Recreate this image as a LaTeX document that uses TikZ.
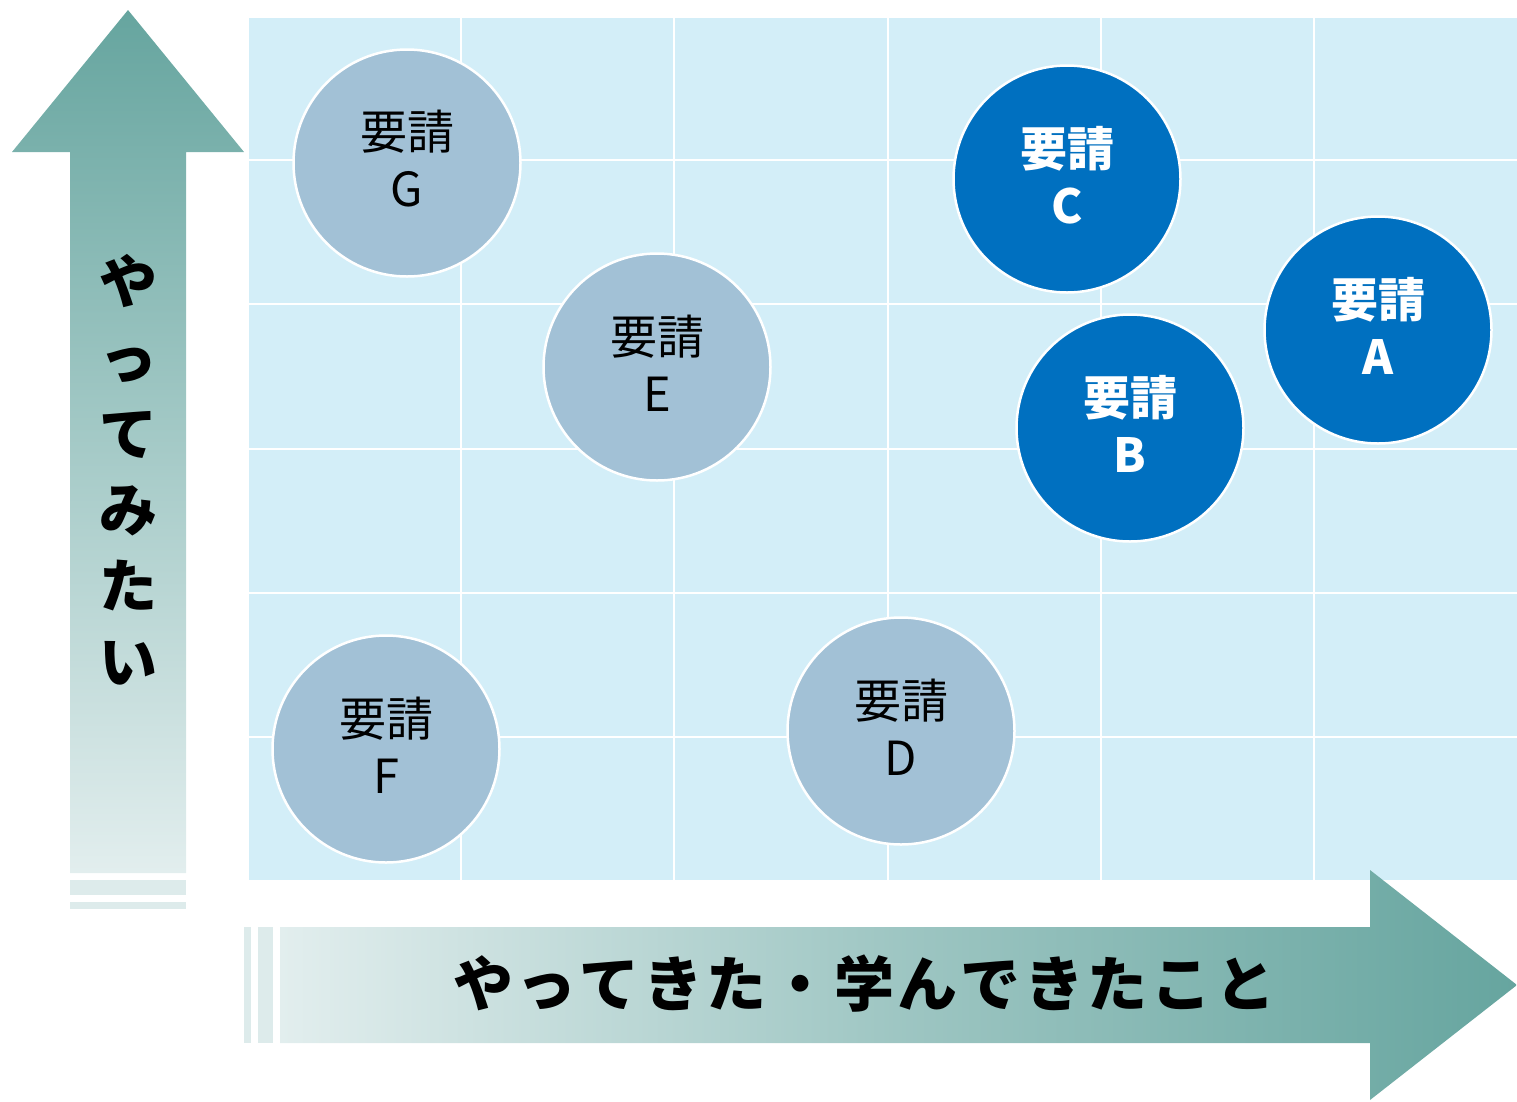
\documentclass[tikz,border=0pt]{standalone}
\usepackage{fontspec}
\newfontfamily\jp{Noto Sans CJK JP}
\definecolor{gridbg}{HTML}{D3EEF8}
\definecolor{lightc}{HTML}{A2C1D6}
\definecolor{darkc}{HTML}{0070C0}
\definecolor{teal}{HTML}{66A59F}
\definecolor{pale}{HTML}{E2EEEE}
\definecolor{stripe}{HTML}{DDEBEB}
\begin{document}
\begin{tikzpicture}[x=1pt,y=-1pt,
  req/.style={circle,minimum size=227pt,inner sep=0pt,draw=white,line width=2.5pt},
  reqlight/.style={req,fill=lightc},
  reqdark/.style={req,fill=darkc},
  lbllight/.style={yshift=4pt,align=center,inner sep=0pt,text=black,font=\jp\fontsize{47}{57}\selectfont},
  lbldark/.style={yshift=4pt,align=center,inner sep=0pt,text=white,font=\jp\bfseries\fontsize{47}{57}\selectfont},
  gline/.style={white,line width=2pt},
  vchar/.style={anchor=base,inner sep=0pt,font=\jp\bfseries\fontsize{58}{58}\selectfont}]
\useasboundingbox (0,0) rectangle (1517,1101);
% grid
\fill[gridbg] (249,18) rectangle (1517,880);
\foreach \x in {461,674,888,1101,1314} \draw[gline] (\x,18) -- (\x,880);
\foreach \y in {160,304,449,593,737} \draw[gline] (249,\y) -- (1517,\y);
% vertical arrow
\shade[top color=teal,bottom color=pale] (128,10) -- (244,152) -- (186,152) -- (186,873) -- (70,873) -- (70,152) -- (12,152) -- cycle;
\fill[stripe] (70,880) rectangle (186,895);
\fill[stripe] (70,902) rectangle (186,909);
% horizontal arrow
\shade[left color=pale,right color=teal,middle color={teal!55!pale}] (280,927) -- (1370,927) -- (1370,870) -- (1517,985) -- (1370,1100) -- (1370,1043) -- (280,1043) -- cycle;
\fill[stripe] (244,927) rectangle (251,1043);
\fill[stripe] (258,927) rectangle (273,1043);
% vertical label
\node[vchar] (v1) at (128,303) {や};
\node[vchar] (v2) at (128,379) {っ};
\node[vchar] (v3) at (128,455) {て};
\node[vchar] (v4) at (128,531) {み};
\node[vchar] (v5) at (128,607) {た};
\node[vchar] (v6) at (128,683) {い};
% horizontal label
\node[anchor=base,inner sep=0pt,font=\jp\bfseries\fontsize{60}{60}\selectfont] (hl) at (864,1006)
  {や\kern3.5ptっ\kern3.5ptて\kern3.5ptき\kern3.5ptた\kern3.5pt・\kern3.5pt学\kern3.5ptん\kern3.5ptで\kern3.5ptき\kern3.5ptた\kern3.5ptこ\kern3.5ptと};
% circles
\node[reqlight,label={[lbllight]center:要請\\G}] (G) at (407,163) {};
\node[reqlight,label={[lbllight]center:要請\\E}] (E) at (657,367) {};
\node[reqdark,label={[lbldark]center:要請\\C}] (C) at (1067,179) {};
\node[reqdark,label={[lbldark]center:要請\\A}] (A) at (1378,330) {};
\node[reqdark,label={[lbldark]center:要請\\B}] (B) at (1130,428) {};
\node[reqlight,label={[lbllight]center:要請\\F}] (F) at (386,749) {};
\node[reqlight,label={[lbllight]center:要請\\D}] (D) at (901,731) {};
\end{tikzpicture}
\end{document}
